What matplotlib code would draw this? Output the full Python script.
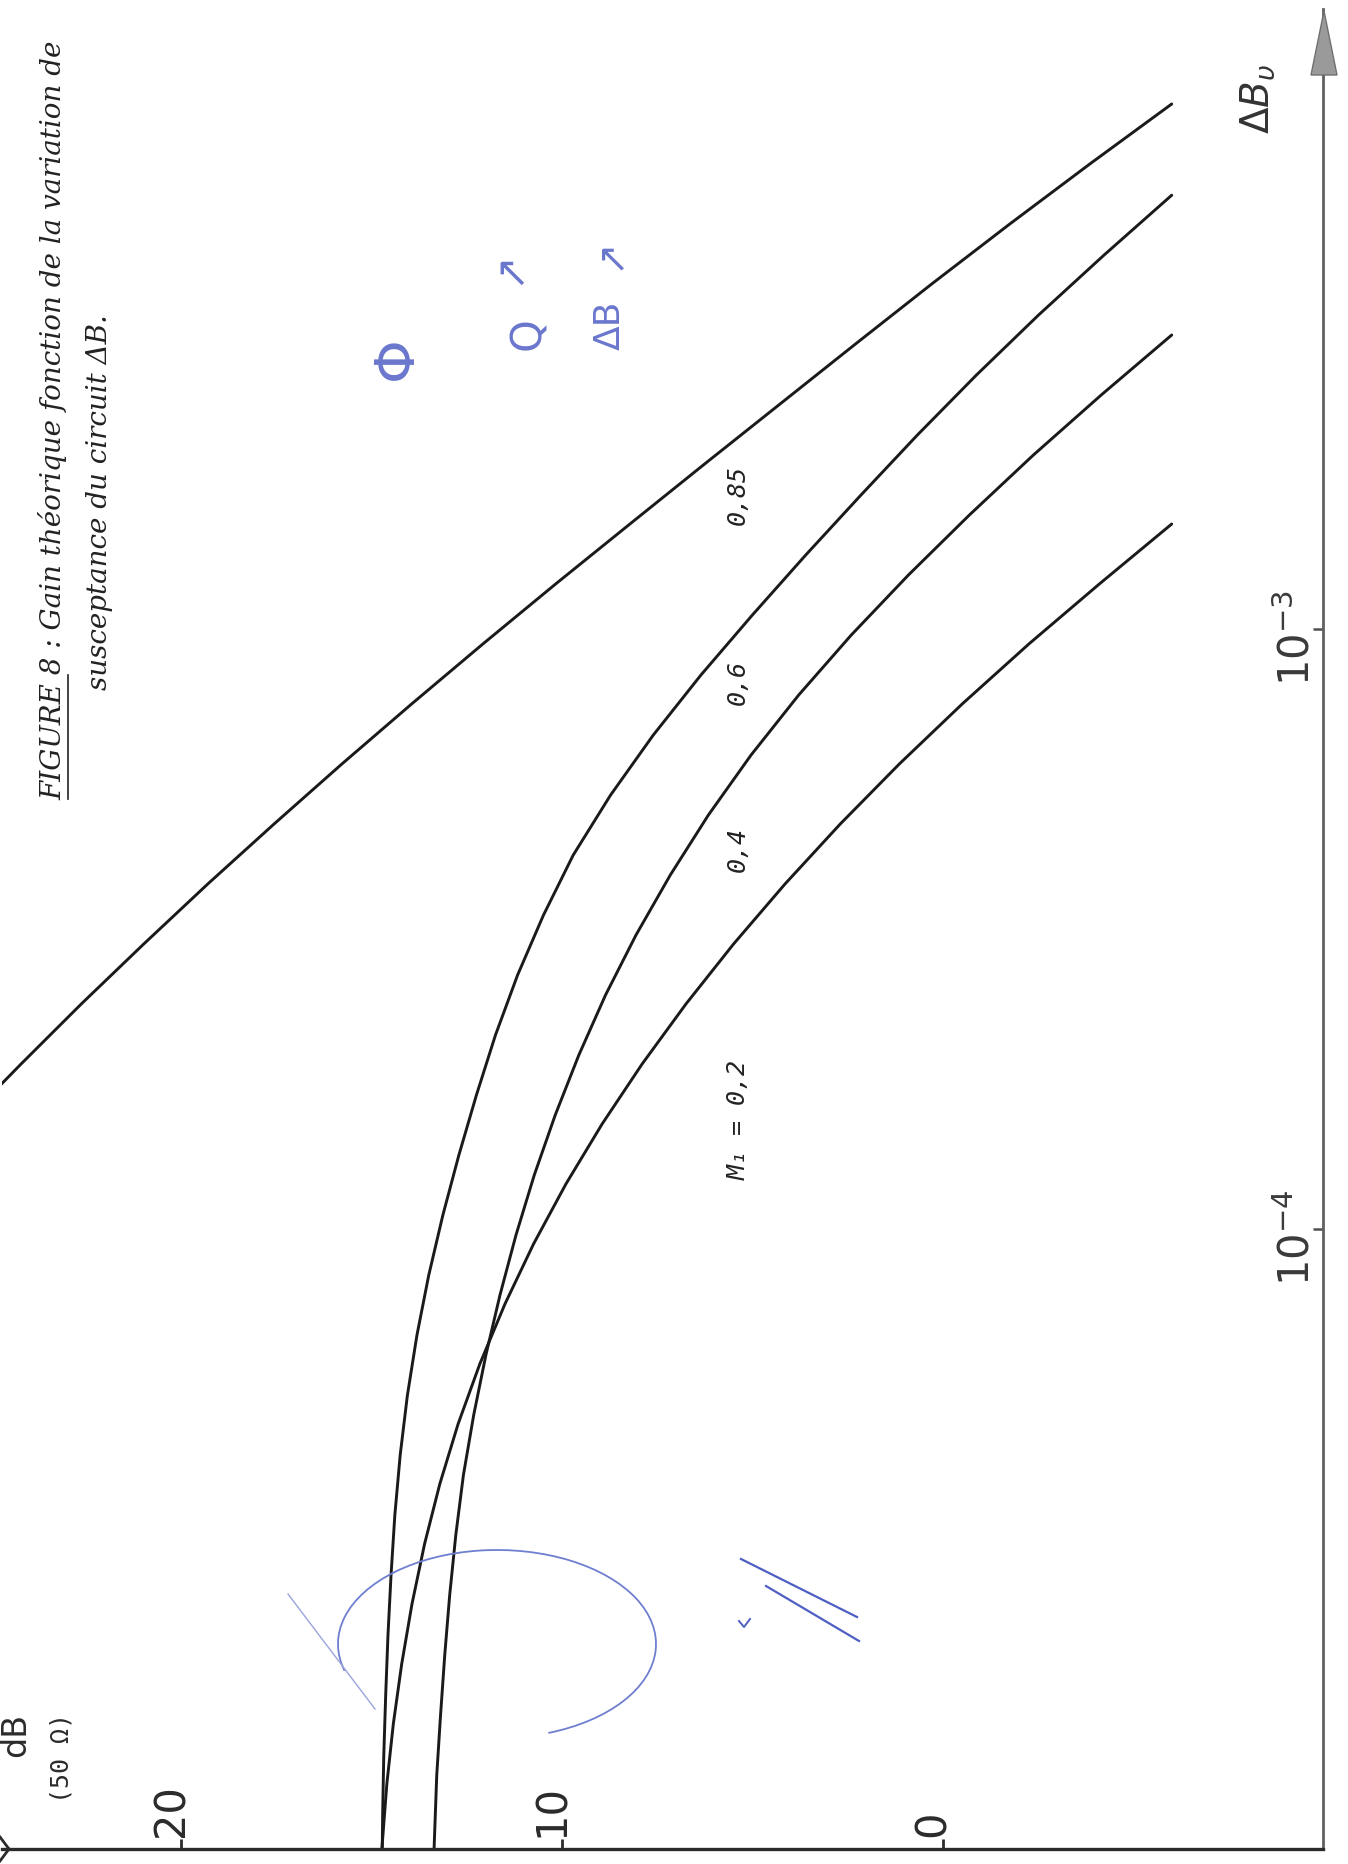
import numpy as np
import matplotlib.pyplot as plt
from matplotlib.patches import Arc, Polygon
from matplotlib.ticker import NullLocator

W, H = 1348, 1865

# values: log10(delta B) and gain in dB for each M1
logb_085 = [-2.125, -2.225, -2.325, -2.425, -2.525, -2.625, -2.725, -2.825,
            -2.925, -3.025, -3.125, -3.225, -3.325, -3.425, -3.525, -3.625,
            -3.725, -3.825, -3.925]
gain_085 = [-6.0, -3.85, -1.75, 0.3, 2.3, 4.28, 6.26, 8.22,
            10.17, 12.08, 13.95, 15.78, 17.56, 19.3, 20.98, 22.62,
            24.2, 25.74, 27.2]

logb_06 = [-2.277, -2.377, -2.477, -2.577, -2.677, -2.777, -2.877, -2.977,
           -3.077, -3.177, -3.277, -3.377, -3.477, -3.577, -3.677, -3.777,
           -3.877, -3.977, -4.077, -4.177, -4.277, -4.377, -4.477, -4.577,
           -4.677, -4.777, -4.877, -4.977, -5.033]
gain_06 = [-6.0, -4.22, -2.5, -0.87, 0.68, 2.16, 3.61, 5.01,
           6.36, 7.61, 8.73, 9.71, 10.49, 11.17, 11.75, 12.25,
           12.71, 13.13, 13.5, 13.81, 14.06, 14.25, 14.39, 14.49,
           14.57, 14.63, 14.68, 14.71, 14.72]

logb_04 = [-2.51, -2.61, -2.71, -2.81, -2.91, -3.01, -3.11, -3.21,
           -3.31, -3.41, -3.51, -3.61, -3.71, -3.81, -3.91, -4.01,
           -4.11, -4.21, -4.31, -4.41, -4.51, -4.61, -4.71, -4.81,
           -4.91, -5.033]
gain_04 = [-6.0, -4.15, -2.37, -0.69, 0.91, 2.41, 3.79, 5.04,
           6.16, 7.16, 8.06, 8.86, 9.56, 10.18, 10.73, 11.21,
           11.63, 12.0, 12.32, 12.59, 12.79, 12.95, 13.08, 13.19,
           13.29, 13.36]

logb_02 = [-2.825, -2.925, -3.025, -3.125, -3.225, -3.325, -3.425, -3.525,
           -3.625, -3.725, -3.825, -3.925, -4.025, -4.125, -4.225, -4.325,
           -4.425, -4.525, -4.625, -4.725, -4.825, -4.925, -5.033]
gain_02 = [-6.0, -4.1, -2.25, -0.5, 1.15, 2.7, 4.15, 5.5,
           6.75, 7.9, 8.95, 9.9, 10.75, 11.5, 12.16, 12.73,
           13.21, 13.61, 13.94, 14.21, 14.43, 14.6, 14.73]

curve_labels = ["0,85", "0,6", "0,4", "M\u2081 = 0,2"]
gain_ticks = [20, 10, 0]
gain_ticklabels = ["20", "10", "0"]
db_ticks = [1e-4, 1e-3]
db_ticklabels = [r"$10^{-4}$", r"$10^{-3}$"]

ink = "#1a1a1a"
pen = "#4f5fc4"

fig = plt.figure(figsize=(W / 100, H / 100), dpi=100)
fig.patch.set_facecolor("white")

# plot box, in pixels of the page
x0, x1, y0, y1 = 2, 1323, 10, 1850
ax = fig.add_axes([x0 / W, 1 - y1 / H, (x1 - x0) / W, (y1 - y0) / H])
ax.patch.set_alpha(0)

for lb, g in [(logb_085, gain_085), (logb_06, gain_06),
              (logb_04, gain_04), (logb_02, gain_02)]:
    ax.plot(g, 10.0 ** np.array(lb), color=ink, lw=2.1,
            solid_capstyle="round", solid_joinstyle="round")

ax.set_xlim(24.70, -9.97)
ax.set_yscale("log")
ax.set_ylim(10 ** -5.0333, 10 ** -1.9667)

ax.spines["top"].set_visible(False)
ax.spines["left"].set_visible(False)
ax.spines["bottom"].set_linewidth(2.4)
ax.spines["bottom"].set_color("#2b2b2b")
ax.spines["right"].set_linewidth(2.0)
ax.spines["right"].set_color("#606060")

ax.set_xticks(gain_ticks)
ax.tick_params(axis="x", direction="in", length=7, width=2.0, colors="#2b2b2b",
               labelbottom=False)
ax.yaxis.set_ticks_position("right")
ax.set_yticks(db_ticks)
ax.yaxis.set_minor_locator(NullLocator())
ax.tick_params(axis="y", direction="in", length=7, width=1.8, colors="#505050",
               labelright=False, labelleft=False)

for g, lab in zip(gain_ticks, gain_ticklabels):
    ax.annotate(lab, xy=(g, 0), xycoords=("data", "axes fraction"),
                xytext=(1.5, 9), textcoords="offset points", rotation=90,
                rotation_mode="anchor", ha="left", va="baseline",
                fontsize=30, color="#2b2b2b")

for b, lab in zip(db_ticks, db_ticklabels):
    ax.annotate(lab, xy=(1, b), xycoords=("axes fraction", "data"),
                xytext=(-10, -40), textcoords="offset points", rotation=90,
                rotation_mode="anchor", ha="left", va="baseline",
                fontsize=30, color="#3a3a3a")

# overlay in page pixels for the page furniture
ov = fig.add_axes([0, 0, 1, 1])
ov.set_xlim(0, W)
ov.set_ylim(H, 0)
ov.axis("off")

def vtext(x, y, s, **kw):
    ov.text(x, y, s, rotation=90, rotation_mode="anchor", ha="left",
            va="baseline", **kw)

# arrow heads of both axes
ov.add_patch(Polygon([(1311, 76), (1337, 76), (1324, 12)], closed=True,
                     facecolor="#9a9a9a", edgecolor="#707070", lw=1))
ov.plot([0, 9], [1838, 1850], color="#2b2b2b", lw=2)
ov.plot([0, 9], [1862, 1850], color="#2b2b2b", lw=2)

vtext(1270, 134, r"$\Delta B_{\upsilon}$", fontsize=28, color="#333333")
vtext(25, 1757, "dB", fontsize=24, color="#2b2b2b")
vtext(68, 1803, "(50 \u03a9)", fontsize=18, color="#2b2b2b",
      family=["DejaVu Sans Mono", "DejaVu Sans"])

# title
vtext(61, 800, "FIGURE 8 : Gain th\u00e9orique fonction de la variation de",
      fontsize=20, style="italic", family="DejaVu Serif", color="#222222")
vtext(107, 690, "susceptance du circuit \u0394B.", fontsize=20, style="italic",
      family="DejaVu Serif", color="#222222")
ov.plot([68, 68], [800, 676], color="#222222", lw=1.2)

# curve labels
mono = ["DejaVu Sans Mono", "DejaVu Sans"]
for lab, (x, y) in zip(curve_labels, [(745, 525), (745, 705), (745, 872), (746, 1180)]):
    vtext(x, y, lab, fontsize=18, style="italic", family=mono, color="#222222")

# blue pen marks on the scan
vtext(412, 380, "\u03a6", fontsize=40, color=pen, alpha=0.85)
vtext(540, 350, "Q", fontsize=30, color=pen, alpha=0.85)
vtext(520, 285, "\u2197", fontsize=30, color=pen, alpha=0.85)
vtext(620, 350, "\u0394B", fontsize=26, color=pen, alpha=0.85)
vtext(620, 270, "\u2197", fontsize=28, color=pen, alpha=0.85)
ov.add_patch(Arc((497, 1645), 318, 188, angle=0, theta1=170, theta2=420,
                 color="#6f7fd0", lw=1.3))
ov.plot([288, 375], [1595, 1710], color="#9aa4dc", lw=1.0)
ov.plot([741, 857], [1560, 1618], color=pen, lw=1.6)
ov.plot([766, 859], [1587, 1642], color=pen, lw=1.6)
ov.plot([739, 744, 750], [1622, 1628, 1620], color=pen, lw=1.4)

fig.savefig("out.png", dpi=100, facecolor="white")
